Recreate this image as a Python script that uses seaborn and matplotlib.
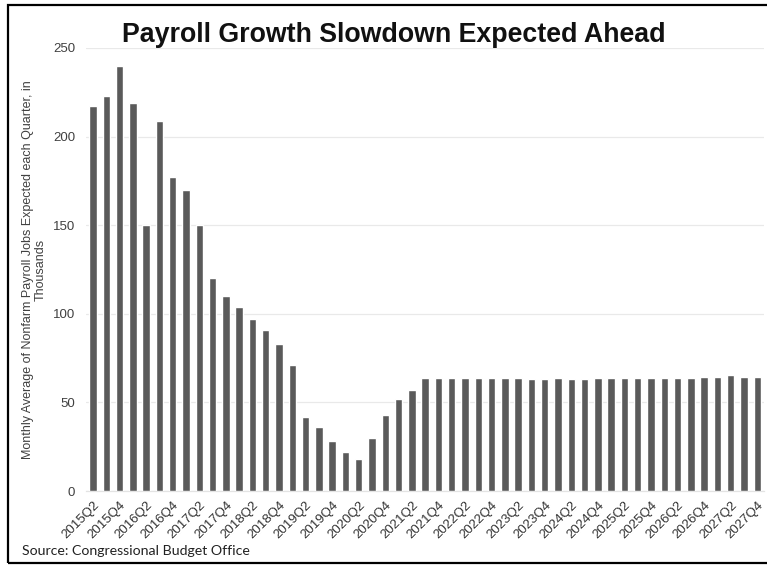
import numpy as np
import pandas as pd
import matplotlib.pyplot as plt
import seaborn as sns
from matplotlib.patches import Rectangle

# ------------------------------------------------------------
# DATA
# ------------------------------------------------------------
years = list(range(2015, 2028))
quarters = [f"{y}Q{q}" for y in years for q in range(1, 5)][1:]   # 2015Q2 .. 2027Q4

payroll_jobs = [217, 223, 240, 219, 150, 209, 177, 170, 150, 120, 110, 104,
                97, 91, 83, 71, 42, 36, 28, 22, 18, 30, 43, 52, 57,
                64, 64, 64, 64, 64, 64, 64, 64, 63, 63, 64, 63, 63,
                64, 64, 64, 64, 64, 64, 64, 64, 64.2, 64.2, 65.2, 64.6, 64.6]

y_ticks = [0, 50, 100, 150, 200, 250]

df = pd.DataFrame({'Quarter': quarters, 'Jobs': payroll_jobs})

# ------------------------------------------------------------
# STYLE
# ------------------------------------------------------------
sns.set_theme(style="white")
plt.rcParams['font.family'] = ['Liberation Sans', 'DejaVu Sans']

fig = plt.figure(figsize=(7.67, 5.66), dpi=100)
ax = fig.add_axes([0.1126, 0.1325, 0.8834, 0.7827])

# ------------------------------------------------------------
# BARS
# ------------------------------------------------------------
sns.barplot(data=df, x='Quarter', y='Jobs', color='#5a5a5a', saturation=1,
            width=0.55, ax=ax, zorder=3)

ax.set_ylim(0, 250)
ax.set_yticks(y_ticks)
ax.yaxis.grid(True, color='#e9e9e9', linewidth=0.9, zorder=0)
ax.set_axisbelow(True)
for s in ['top', 'right', 'left']:
    ax.spines[s].set_visible(False)
ax.spines['bottom'].set_color('#e3e3e3')
ax.spines['bottom'].set_linewidth(0.9)

ax.set_xticks(range(0, len(quarters), 2))
ax.set_xticklabels(quarters[::2], rotation=45, ha='right', rotation_mode='anchor',
                   fontsize=9.5, color='#333333')
ax.tick_params(axis='x', length=0, pad=6)
ax.tick_params(axis='y', length=0, pad=8, labelsize=9.5, labelcolor='#404040')
ax.set_xlabel("")
ax.set_ylabel("")

# ------------------------------------------------------------
# TEXT
# ------------------------------------------------------------
fig.text(0.514, 0.926, "Payroll Growth Slowdown Expected Ahead",
         ha='center', va='baseline', fontsize=19.3, fontweight='bold', color='#111111')
fig.text(0.0443, 0.523,
         "Monthly Average of Nonfarm Payroll Jobs Expected each Quarter, in\nThousands",
         ha='center', va='center', rotation=90, fontsize=9, color='#404040',
         multialignment='center', linespacing=1.1)
fig.text(0.029, 0.019, "Source: Congressional Budget Office",
         ha='left', va='baseline', fontsize=10.2, color='#222222',
         family=['Lato', 'DejaVu Sans'])

# frame round the picture
fig.patches.append(Rectangle((0.0105, 0.0055), 1.0, 0.9855, transform=fig.transFigure,
                             fill=False, edgecolor='black', linewidth=1.6))

plt.savefig("out.png", dpi=100)
